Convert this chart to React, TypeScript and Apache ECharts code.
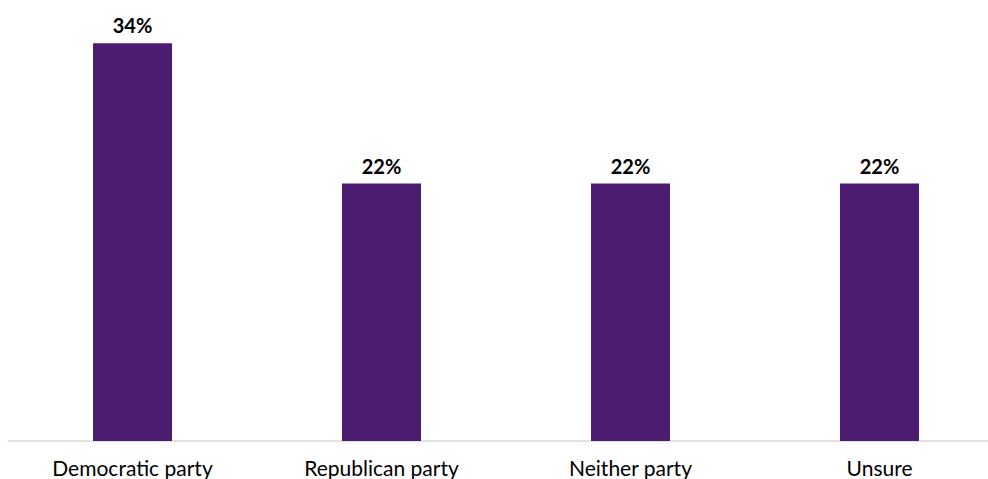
import React, { useEffect, useRef } from "react";
import * as echarts from "echarts";

const categories = ["Democratic party", "Republican party", "Neither party", "Unsure"];
const values = [34, 22, 22, 22];

export default function App() {
  const ref = useRef<HTMLDivElement>(null);
  useEffect(() => {
    if (!ref.current) return;
    const chart = echarts.init(ref.current, undefined, { renderer: "svg" });
    chart.setOption({
      animation: false,
      grid: { left: 8, top: 1, right: -16, height: 440, outerBoundsMode: "none", containLabel: false },
      xAxis: {
        type: "category",
        data: categories,
        axisLine: { lineStyle: { color: "#d9d9d9", width: 1.5 } },
        axisTick: { show: false },
        axisLabel: {
          color: "#000",
          fontFamily: "Lato",
          fontSize: 21,
          margin: 16,
          interval: 0,
        },
      },
      yAxis: {
        type: "value",
        min: 0,
        max: 37.6,
        show: false,
        splitLine: { show: false },
      },
      series: [
        {
          type: "bar",
          data: values,
          barWidth: 79,
          itemStyle: { color: "#4b1c6f" },
          label: {
            show: true,
            position: "top",
            distance: 8,
            formatter: "{c}%",
            color: "#000",
            fontFamily: "Lato",
            fontWeight: "bold",
            fontSize: 20,
          },
        },
      ],
    });
    return () => chart.dispose();
  }, []);
  return (
    <div
      ref={ref}
      style={{ position: "absolute", left: 0, top: 0, width: 988, height: 479 }}
    />
  );
}
